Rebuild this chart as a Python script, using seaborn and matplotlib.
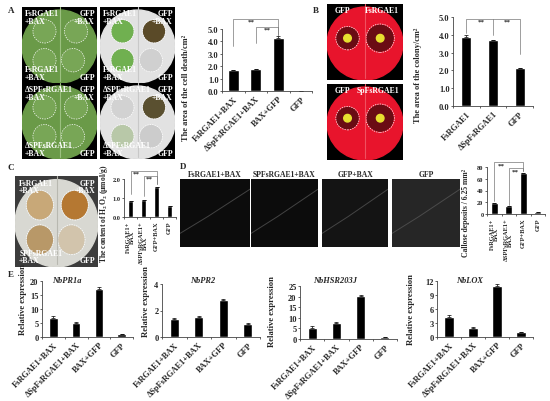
import numpy as np
import matplotlib
matplotlib.use('Agg')
import matplotlib.pyplot as plt
import matplotlib.patches as mpatches
import seaborn as sns

sns.set_style('white')
plt.rcParams['font.family'] = ['Liberation Serif', 'DejaVu Serif']
plt.rcParams['font.weight'] = 'bold'
plt.rcParams['mathtext.fontset'] = 'stix'

# --- data ---
a_cats = ['FsRGAE1+BAX', 'ΔSpFsRGAE1+BAX', 'BAX+GFP', 'GFP']
a_vals = [1.72, 1.75, 4.3, 0.03]
a_err = [0.0, 0.0, 0.12, 0.0]

b_cats = ['FsRGAE1', 'ΔSpFsRGAE1', 'GFP']
b_vals = [3.85, 3.7, 2.15]
b_err = [0.12, 0.0, 0.0]

c_cats = ['FsRGAE1+\nBAX', 'ΔSPFsRGAE1+\nBAX', 'GFP+BAX', 'GFP']
c_vals = [0.82, 0.88, 1.6, 0.58]
c_err = [0.0, 0.0, 0.0, 0.0]

d_cats = ['FsRGAE1+\nBAX', 'ΔSPFsRGAE1+\nBAX', 'GFP+BAX', 'GFP']
d_vals = [18, 13, 70, 3]
d_err = [0, 0, 0, 0]
d_titles = ['FsRGAE1+BAX', 'SPFsRGAE1+BAX', 'GFP+BAX', 'GFP']

e_cats = ['FsRGAE1+BAX', 'ΔSpFsRGAE1+BAX', 'BAX+GFP', 'GFP']
pr1a_vals = [6.8, 5.0, 17.3, 1.0]
pr1a_err = [0.6, 0.4, 0.5, 0.1]
pr2_vals = [1.35, 1.48, 2.8, 1.0]
pr2_err = [0.05, 0.08, 0.08, 0.05]
hsr_vals = [5.2, 7.6, 20.5, 1.0]
hsr_err = [0.8, 0.3, 0.3, 0.1]
lox_vals = [4.2, 2.0, 10.9, 1.0]
lox_err = [0.6, 0.1, 0.4, 0.05]

W, H = 550, 402
fig = plt.figure(figsize=(5.5, 4.02), dpi=100)
fig.patch.set_facecolor('white')


def px(x0, y0, x1, y1):
    return [x0 / W, 1 - y1 / H, (x1 - x0) / W, (y1 - y0) / H]


def ftext(x, y, s, **kw):
    fig.text(x / W, 1 - y / H, s, **kw)


def bars(rect, cats, vals, errs, yticks, fmt, width, rot, fs=6):
    ax = fig.add_axes(px(*rect))
    sns.barplot(x=cats, y=vals, color='black', saturation=1, width=width, ax=ax)
    ax.errorbar(range(len(vals)), vals, yerr=[np.zeros(len(errs)), errs], fmt='none',
                ecolor='black', elinewidth=0.5, capsize=1.2, capthick=0.5)
    ax.set_xlim(-0.5, len(cats) - 0.5)
    ax.set_ylim(yticks[0], yticks[-1])
    ax.set_yticks(yticks)
    ax.set_yticklabels([fmt.format(t) for t in yticks])
    ax.set_xticks(np.arange(-0.5, len(cats)), minor=True)
    if rot == 45:
        ax.set_xticklabels(cats, rotation=45, ha='right', rotation_mode='anchor')
    else:
        ax.set_xticklabels(cats, rotation=90, ha='center', va='top', linespacing=0.8)
    ax.tick_params(axis='x', which='major', length=0, pad=2.5, labelsize=fs)
    ax.tick_params(axis='x', which='minor', length=1.5, width=0.5, bottom=True)
    ax.tick_params(axis='y', length=1.5, width=0.5, pad=1, labelsize=fs, left=True)
    sns.despine(ax=ax)
    for s in ['left', 'bottom']:
        ax.spines[s].set_linewidth(0.6)
        ax.spines[s].set_color('#444444')
    ax.set_facecolor('white')
    return ax


def bracket(ax, x0, x1, y, y0, y1, txt_x):
    ax.plot([x0, x0, x1, x1], [y0, y, y, y1], color='#777777', lw=0.5, clip_on=False)
    ax.text(txt_x, y, '**', ha='center', va='top', fontsize=5, clip_on=False)


def photo(rect, bg):
    ax = fig.add_axes(px(*rect))
    ax.set_xlim(0, 1)
    ax.set_ylim(0, 1)
    ax.set_facecolor(bg)
    ax.set_xticks([])
    ax.set_yticks([])
    for s in ax.spines.values():
        s.set_visible(False)
    return ax


def leaf(ax, color, rib):
    ax.add_patch(mpatches.Ellipse((0.5, 0.48), 1.0, 0.96, color=color))
    ax.plot([0.5, 0.5], [1.0, 0.03], color=rib, lw=0.8)


def spot(ax, x, y, r, fill=None, edge='white'):
    if fill is not None:
        ax.add_patch(mpatches.Ellipse((x, y), 2 * r, 2 * r, color=fill))
    ax.add_patch(mpatches.Ellipse((x, y), 2 * r * 1.1, 2 * r * 1.1, fill=False,
                                  ec=edge, lw=0.5, ls=(0, (2, 1.5))))


wtxt = dict(color='white', fontsize=5.6, fontweight='bold', linespacing=0.95)

# ---------- A: leaf photos ----------
spots = [(0.3, 0.68), (0.72, 0.68), (0.3, 0.3), (0.68, 0.3)]
for row, lab in enumerate(['FsRGAE1', 'ΔSPFsRGAE1']):
    y0 = 8 if row == 0 else 84
    ax = photo((22, y0, 97, y0 + 76), 'black')
    leaf(ax, '#6a9a48', '#9cc080')
    for (x, y) in spots:
        spot(ax, x, y, 0.14, fill='#78a656')
    ax.text(0.04, 0.97, lab + '\n+BAX', ha='left', va='top', transform=ax.transAxes, **wtxt)
    ax.text(0.97, 0.97, 'GFP\n+BAX', ha='right', va='top', transform=ax.transAxes, **wtxt)
    ax.text(0.04, 0.03, lab + '\n+BAX', ha='left', va='bottom', transform=ax.transAxes, **wtxt)
    ax.text(0.97, 0.03, 'GFP', ha='right', va='bottom', transform=ax.transAxes, **wtxt)

    ax = photo((100, y0, 175, y0 + 76), 'black')
    leaf(ax, '#e2e2e2', '#c8c8c8')
    fills = ['#70b050', '#5a4a28', '#70b050', '#d0d0d0'] if row == 0 else \
            ['#d2d2d2', '#5a5030', '#b8c8a8', '#cccccc']
    for (x, y), f in zip(spots, fills):
        spot(ax, x, y, 0.14, fill=f)
    ax.text(0.04, 0.97, lab + '\n+BAX', ha='left', va='top', transform=ax.transAxes, **wtxt)
    ax.text(0.97, 0.97, 'GFP\n+BAX', ha='right', va='top', transform=ax.transAxes, **wtxt)
    ax.text(0.04, 0.03, lab + '\n+BAX', ha='left', va='bottom', transform=ax.transAxes, **wtxt)
    ax.text(0.97, 0.03, 'GFP', ha='right', va='bottom', transform=ax.transAxes, **wtxt)

# ---------- A: bar chart ----------
ax = bars((222, 30, 312, 92), a_cats, a_vals, a_err, [0, 1, 2, 3, 4, 5], '{:.1f}', 0.5, 45)
bracket(ax, 0, 2, 5.8, 3.6, 4.55, 0.8)
bracket(ax, 1, 2, 5.16, 3.9, 4.55, 1.5)
ftext(186, 88, 'The area of the cell death/cm²', rotation=90, ha='center', va='center', fontsize=6)

# ---------- B: photos + bar chart ----------
for row, lab in enumerate(['FsRGAE1', 'SpFsRGAE1']):
    y0 = 5 if row == 0 else 85
    ax = photo((327, y0, 403, y0 + 76), 'black')
    leaf(ax, '#e8142c', '#f05060')
    for (x, y) in [(0.27, 0.55), (0.7, 0.55)]:
        spot(ax, x, y, 0.17 if x > 0.5 else 0.14, fill='#6a0c14')
        ax.add_patch(mpatches.Ellipse((x, y), 0.1, 0.1, color='#e8e030'))
    ax.text(0.1, 0.97, 'GFP', ha='left', va='top', transform=ax.transAxes, **wtxt)
    ax.text(0.95, 0.97, lab, ha='right', va='top', transform=ax.transAxes, **wtxt)

ax = bars((453, 18, 533, 107), b_cats, b_vals, b_err, [0, 1, 2, 3, 4, 5], '{:.1f}', 0.38, 45)
bracket(ax, 0, 2, 4.9, 4.1, 2.9, 0.55)
ax.plot([1, 1], [4.9, 4.0], color='#777777', lw=0.5)
ax.text(1.55, 4.9, '**', ha='center', va='top', fontsize=5)
ftext(418, 75, 'The area of the colony/cm²', rotation=90, ha='center', va='center', fontsize=6)

# ---------- C: photo + bar chart ----------
ax = photo((15, 177, 98, 268), '#3c3c3c')
leaf(ax, '#d8d8d2', '#b8b8b0')
for (x, y), f in zip(spots, ['#c8a878', '#b57832', '#b89868', '#d2c4ac']):
    spot(ax, x, y, 0.15, fill=f)
ax.text(0.05, 0.97, 'FsRGAE1\n+BAX', ha='left', va='top', transform=ax.transAxes, **wtxt)
ax.text(0.97, 0.97, 'GFP\n+BAX', ha='right', va='top', transform=ax.transAxes, **wtxt)
ax.text(0.05, 0.03, 'SPFsRGAE1\n+BAX', ha='left', va='bottom', transform=ax.transAxes, **wtxt)
ax.text(0.97, 0.03, 'GFP', ha='right', va='bottom', transform=ax.transAxes, **wtxt)

ax = bars((124, 180, 176, 218), c_cats, c_vals, c_err, [0, 1, 2], '{:.1f}', 0.45, 90, fs=4.6)
bracket(ax, 0, 2, 2.42, 1.2, 1.75, 0.45)
bracket(ax, 1, 2, 2.16, 1.1, 1.75, 1.45)
ftext(104, 214, 'The content of H$_2$O$_2$ (μmol/g)', rotation=90, ha='center', va='center', fontsize=5.5)

# ---------- D: microscopy + bar chart ----------
ftext(180, 167, 'D', fontsize=6.5, ha='left', va='center')
d_boxes = [(180, 250), (251, 318), (322, 388), (392, 460)]
d_bgs = ['#0c0c0c', '#0c0c0c', '#141414', '#262626']
for (x0, x1), bg, t in zip(d_boxes, d_bgs, d_titles):
    ax = photo((x0, 180, x1, 248), bg)
    ax.plot([0.0, 0.4, 1.0], [0.2, 0.45, 0.85], color='#5a5a5a', lw=0.7, alpha=0.7)
    ftext((x0 + x1) / 2, 175, t, ha='center', va='center', fontsize=5.5)

ax = bars((487, 168, 545, 215), d_cats, d_vals, d_err, [0, 20, 40, 60, 80], '{:d}', 0.5, 90, fs=4.6)
bracket(ax, 0, 2, 88, 22, 74, 0.5)
bracket(ax, 1, 2, 78, 16, 74, 1.45)
ftext(466, 213, 'Callose deposits / 6.25 mm²', rotation=90, ha='center', va='center', fontsize=5.5)

# ---------- E: qPCR ----------
e_panels = [
    ((42, 282, 133, 338), pr1a_vals, pr1a_err, [0, 5, 10, 15, 20], 'NbPR1a', 67, 23, 300),
    ((162, 285, 260, 338), pr2_vals, pr2_err, [0, 2, 4], 'NbPR2', 203, 146, 302),
    ((300, 287, 397, 340), hsr_vals, hsr_err, [0, 5, 10, 15, 20, 25], 'NbHSR203J', 335, 272, 312),
    ((437, 282, 533, 338), lox_vals, lox_err, [0, 3, 6, 9, 12], 'NbLOX', 470, 411, 310),
]
for rect, vals, errs, ticks, gene, tx, lx, ly in e_panels:
    ax = bars(rect, e_cats, vals, errs, ticks, '{:d}', 0.38, 45)
    ftext(tx, 281, gene, ha='center', va='center', fontsize=6, style='italic')
    ftext(lx, ly, 'Relative expression', rotation=90, ha='center', va='center', fontsize=6.2)

# panel letters
for letter, x, y in [('A', 8, 11), ('B', 313, 11), ('C', 8, 168), ('E', 8, 275)]:
    ftext(x, y, letter, fontsize=6.5, ha='left', va='center')

fig.savefig('out.png', dpi=100)
